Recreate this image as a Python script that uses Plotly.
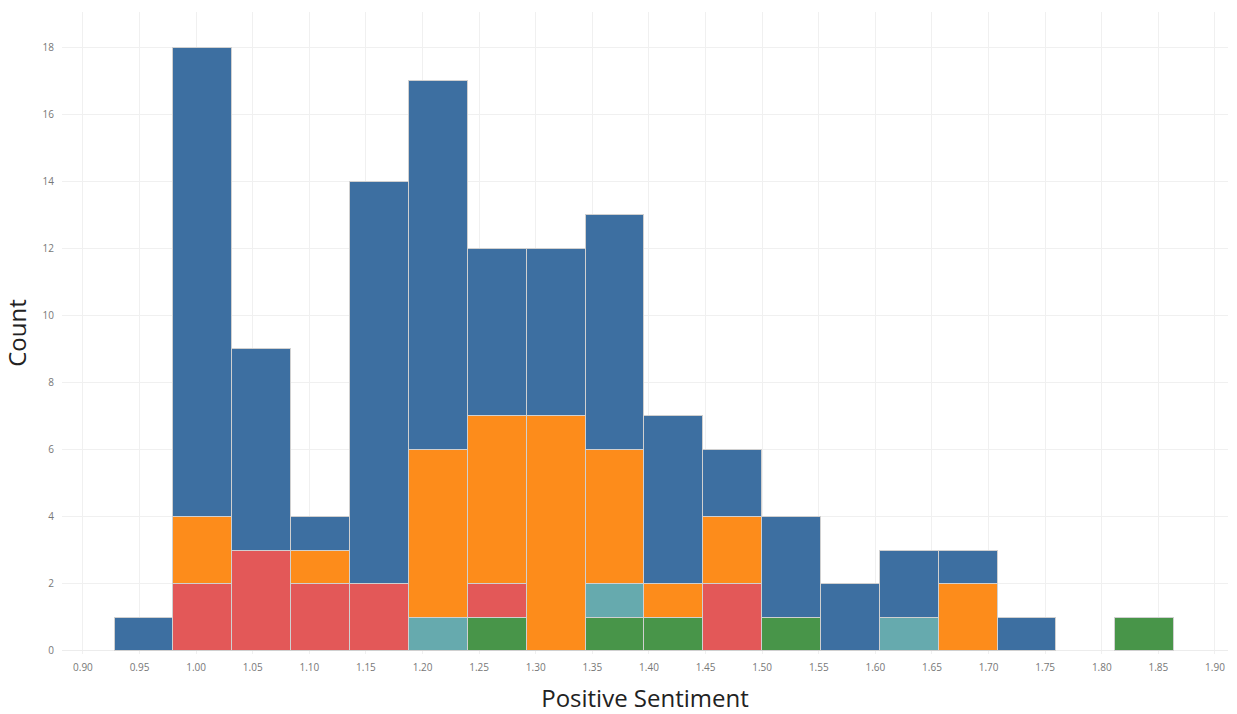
import plotly.graph_objects as go

# Histogram bins (labels as shown on the axis)
bin_labels = ["0.95", "1.00", "1.05", "1.10", "1.15", "1.20", "1.25", "1.30", "1.35",
              "1.40", "1.45", "1.50", "1.55", "1.60", "1.65", "1.70", "1.75", "1.80"]
bin_start = 0.9275
bin_size = 0.052

# Stacked counts per bin, bottom to top
green  = [0, 0, 0, 0, 0, 0, 1, 0, 1, 1, 0, 1, 0, 0, 0, 0, 0, 1]
teal   = [0, 0, 0, 0, 0, 1, 0, 0, 1, 0, 0, 0, 0, 1, 0, 0, 0, 0]
red    = [0, 2, 3, 2, 2, 0, 1, 0, 0, 0, 2, 0, 0, 0, 0, 0, 0, 0]
orange = [0, 2, 0, 1, 0, 5, 5, 7, 4, 1, 2, 0, 0, 0, 2, 0, 0, 0]
blue   = [1, 14, 6, 1, 12, 11, 5, 5, 7, 5, 2, 3, 2, 2, 1, 1, 0, 0]

tick_vals = [round(0.90 + 0.05 * i, 2) for i in range(21)]
tick_text = [f"{v:.2f}" for v in tick_vals]
y_ticks = [0, 2, 4, 6, 8, 10, 12, 14, 16, 18]

series = [
    ("Green", green, "#489549"),
    ("Teal", teal, "#66AAAE"),
    ("Red", red, "#E35858"),
    ("Orange", orange, "#FD8C1B"),
    ("Blue", blue, "#3D6FA1"),
]

x_centers = [bin_start + bin_size * (i + 0.5) for i in range(len(bin_labels))]

fig = go.Figure()
for name, vals, color in series:
    xs = [x for x, v in zip(x_centers, vals) if v > 0]
    ys = [v for v in vals if v > 0]
    fig.add_trace(go.Bar(
        x=xs, y=ys, name=name, width=bin_size,
        marker=dict(color=color, line=dict(color="#d0d0d0", width=1)),
        showlegend=False,
    ))

fig.update_layout(
    barmode="stack",
    width=1237, height=714,
    margin=dict(l=62, r=9, t=12, b=60),
    paper_bgcolor="white", plot_bgcolor="white",
    font=dict(family="Open Sans, Lato, sans-serif", color="#666"),
    xaxis=dict(
        range=[0.8815, 1.9115],
        tickvals=tick_vals, ticktext=tick_text,
        tickfont=dict(size=10, color="#777"),
        ticklabelstandoff=6,
        showgrid=True, gridcolor="#f0f0f0", gridwidth=1,
        zeroline=False, showline=False, ticks="",
        automargin=False,
        title=dict(text="Positive Sentiment", font=dict(size=24, color="#222"), standoff=27),
    ),
    yaxis=dict(
        range=[-0.1, 19.05],
        tickvals=y_ticks,
        tickfont=dict(size=10, color="#777"),
        ticklabelstandoff=7,
        showgrid=True, gridcolor="#f0f0f0", gridwidth=1,
        zeroline=True, zerolinecolor="#ececec", zerolinewidth=1,
        showline=False, ticks="",
        automargin=False,
        title=dict(text="Count", font=dict(size=24, color="#222"), standoff=14),
    ),
)

fig.write_html(
    "out.html",
    config={"displayModeBar": False},
    post_script="document.body.style.margin='0px';document.body.style.overflow='hidden';",
)
